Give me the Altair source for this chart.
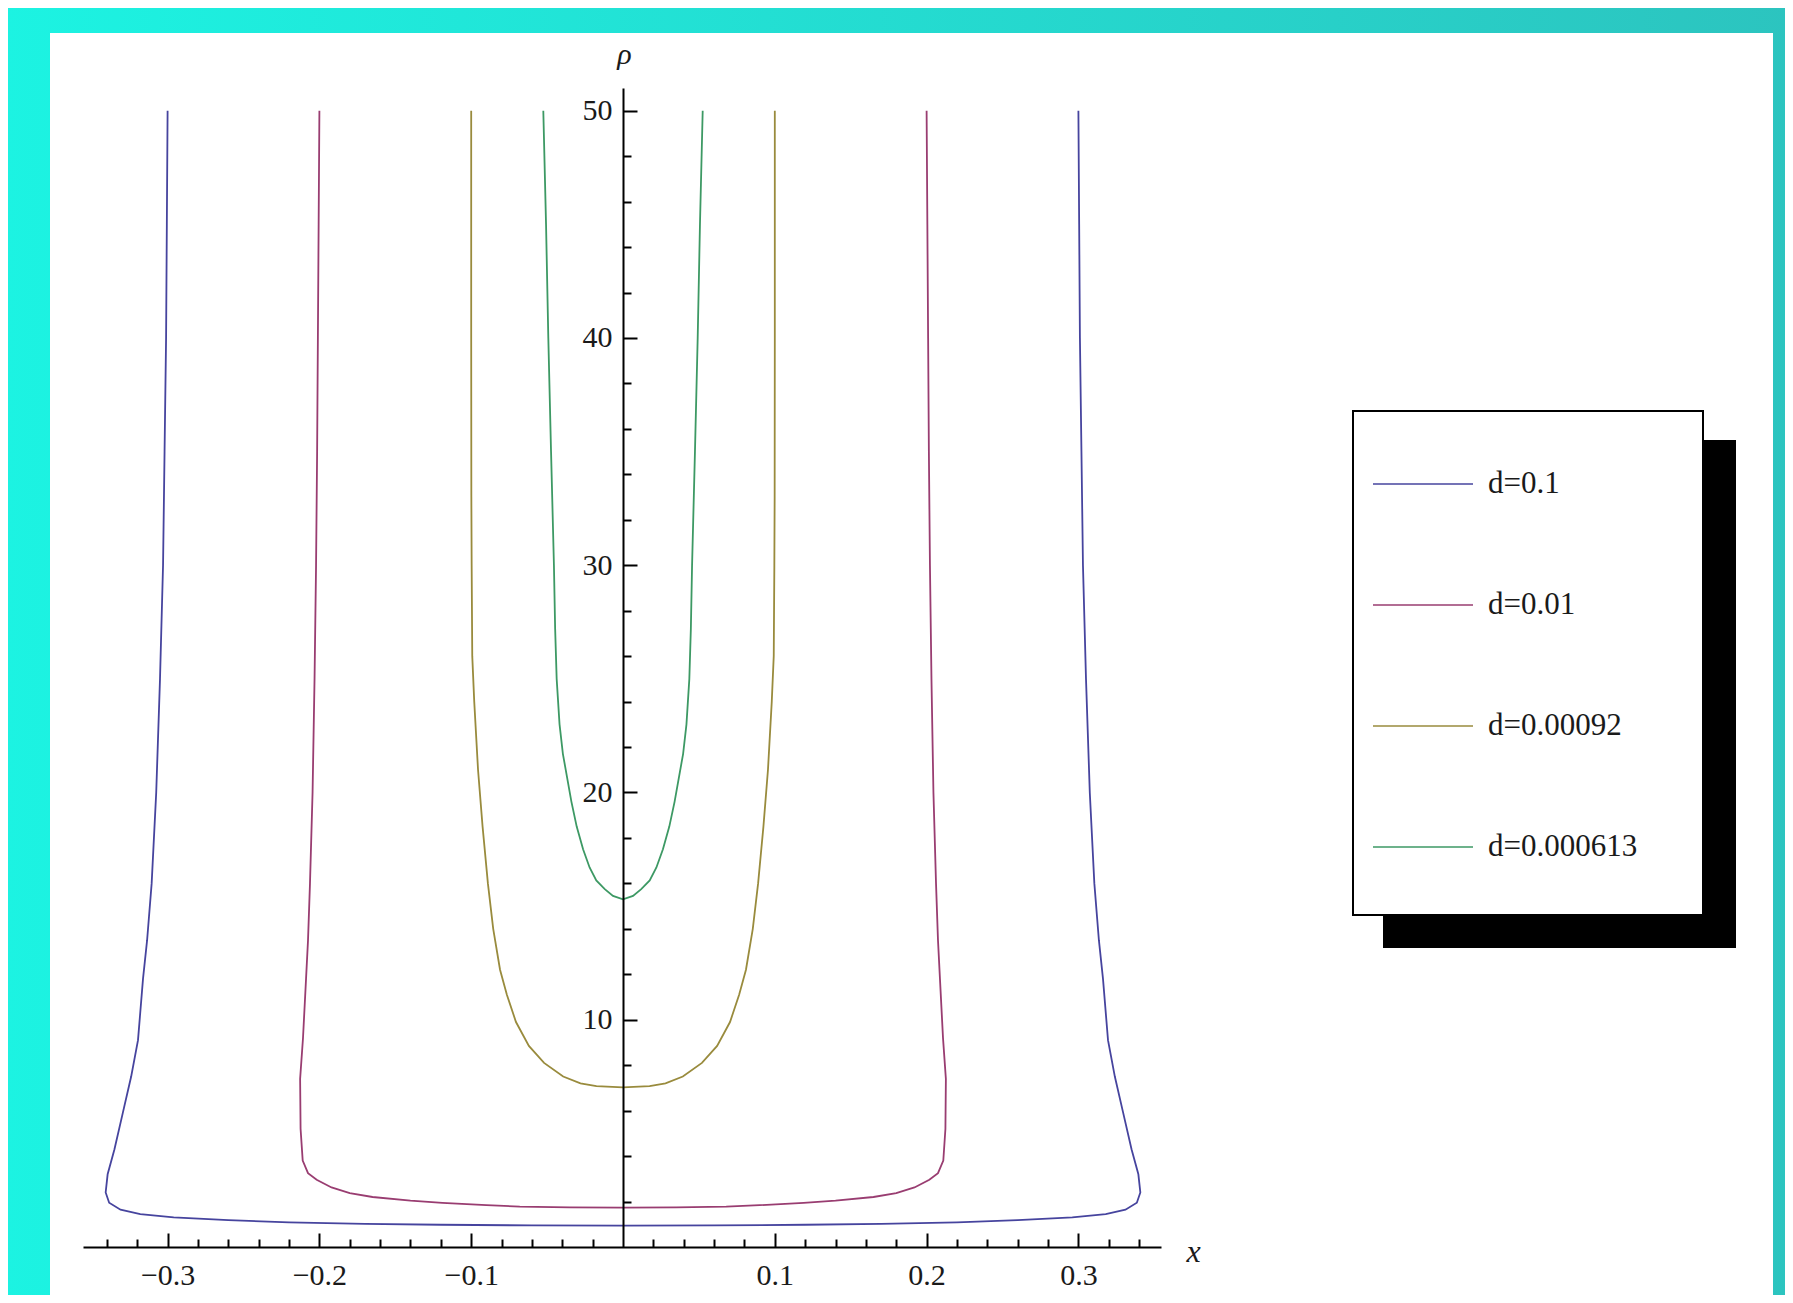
import altair as alt
import pandas as pd

# ---------------- data ----------------
series_names = ["d=0.1", "d=0.01", "d=0.00092", "d=0.000613"]
series_colors = ["#46449e", "#993d71", "#998b3d", "#3d9964"]

blue_x = [-0.3000, -0.3005, -0.3010, -0.3020, -0.3030, -0.3050, -0.3075, -0.3105, -0.3135, -0.3162,
          -0.3195, -0.3240, -0.3295, -0.3350, -0.3395, -0.3408, -0.3385, -0.3310, -0.3180, -0.2960,
          -0.2600, -0.2200, -0.1700, -0.1200, -0.0600, 0.0,
          0.0600, 0.1200, 0.1700, 0.2200, 0.2600, 0.2960, 0.3180, 0.3310, 0.3385, 0.3408,
          0.3395, 0.3350, 0.3295, 0.3240, 0.3195, 0.3162, 0.3135, 0.3105, 0.3075, 0.3050,
          0.3030, 0.3020, 0.3010, 0.3005, 0.3000]
blue_rho = [50, 45, 40, 35, 30, 25, 20, 16, 13.5, 11.8,
            9.1, 7.5, 5.9, 4.3, 3.2, 2.4, 1.95, 1.64, 1.45, 1.3,
            1.18, 1.08, 1.02, 0.98, 0.95, 0.94,
            0.95, 0.98, 1.02, 1.08, 1.18, 1.3, 1.45, 1.64, 1.95, 2.4,
            3.2, 4.3, 5.9, 7.5, 9.1, 11.8, 13.5, 16, 20, 25,
            30, 35, 40, 45, 50]

red_x = [-0.2000, -0.2005, -0.2010, -0.2015, -0.2022, -0.2032, -0.2045, -0.2062, -0.2075, -0.2088,
         -0.2108, -0.2127, -0.2124, -0.2110, -0.2075, -0.2018, -0.1920, -0.1800, -0.1650, -0.1400,
         -0.1190, -0.0900, -0.0680, -0.0350, 0.0,
         0.0350, 0.0680, 0.0900, 0.1190, 0.1400, 0.1650, 0.1800, 0.1920, 0.2018, 0.2075,
         0.2110, 0.2124, 0.2127, 0.2108, 0.2088, 0.2075, 0.2062, 0.2045, 0.2032, 0.2022,
         0.2015, 0.2010, 0.2005, 0.2000]
red_rho = [50, 45, 40, 35, 30, 25, 20, 16, 13.5, 11.8,
           9.2, 7.4, 5.2, 3.8, 3.25, 2.96, 2.62, 2.37, 2.2, 2.04,
           1.94, 1.84, 1.78, 1.74, 1.73,
           1.74, 1.78, 1.84, 1.94, 2.04, 2.2, 2.37, 2.62, 2.96, 3.25,
           3.8, 5.2, 7.4, 9.2, 11.8, 13.5, 16, 20, 25, 30,
           35, 40, 45, 50]

yellow_x = [-0.1000, -0.1000, -0.0999, -0.0997, -0.0993, -0.0980, -0.0955, -0.0925, -0.0890, -0.0855,
            -0.0810, -0.0765, -0.0705, -0.0620, -0.0520, -0.0394, -0.0280, -0.0175, 0.0,
            0.0175, 0.0280, 0.0394, 0.0520, 0.0620, 0.0705, 0.0765, 0.0810, 0.0855, 0.0890,
            0.0925, 0.0955, 0.0980, 0.0993, 0.0997, 0.0999, 0.1000, 0.1000]
yellow_rho = [50, 40, 33, 30, 26, 24, 21, 18.5, 16, 14,
              12.2, 11.1, 9.9, 8.85, 8.1, 7.5, 7.2, 7.08, 7.02,
              7.08, 7.2, 7.5, 8.1, 8.85, 9.9, 11.1, 12.2, 14, 16,
              18.5, 21, 24, 26, 30, 33, 40, 50]

green_x = [-0.0525, -0.0507, -0.0492, -0.0474, -0.0455, -0.0447, -0.0437, -0.0418, -0.0396, -0.0340,
           -0.0305, -0.0263, -0.0220, -0.0176, -0.0120, -0.0066, 0.0,
           0.0066, 0.0120, 0.0176, 0.0220, 0.0263, 0.0305, 0.0340, 0.0396, 0.0418, 0.0437,
           0.0447, 0.0455, 0.0474, 0.0492, 0.0507, 0.0525]
green_rho = [50, 45, 40, 35, 30, 27.2, 25.0, 23.0, 21.7, 19.6,
             18.5, 17.5, 16.7, 16.13, 15.75, 15.45, 15.3,
             15.45, 15.75, 16.13, 16.7, 17.5, 18.5, 19.6, 21.7, 23.0, 25.0,
             27.2, 30, 35, 40, 45, 50]

x_major = [-0.3, -0.2, -0.1, 0.1, 0.2, 0.3]
x_minor = [-0.34, -0.32, -0.28, -0.26, -0.24, -0.22, -0.18, -0.16, -0.14, -0.12,
           -0.08, -0.06, -0.04, -0.02, 0.02, 0.04, 0.06, 0.08,
           0.12, 0.14, 0.16, 0.18, 0.22, 0.24, 0.26, 0.28, 0.32, 0.34]
y_major = [10, 20, 30, 40, 50]
y_minor = [2, 4, 6, 8, 12, 14, 16, 18, 22, 24, 26, 28, 32, 34, 36, 38, 42, 44, 46, 48]

rows = []
for name, xs, rs in zip(series_names,
                        [blue_x, red_x, yellow_x, green_x],
                        [blue_rho, red_rho, yellow_rho, green_rho]):
    for i, (xv, rv) in enumerate(zip(xs, rs)):
        rows.append({"d": name, "x": xv, "rho": rv, "i": i})
df = pd.DataFrame(rows)
one = pd.DataFrame({"k": [0]})

# ---------------- layout ----------------
W, H = 1078, 1159
serif = "Liberation Serif"

x_scale = alt.Scale(domain=[-0.35573, 0.35441], nice=False, zero=False)
y_scale = alt.Scale(domain=[0, 51.0], nice=False, zero=False)

xA = alt.Axis(orient="bottom", values=x_major, format=".1f", ticks=False, tickSize=0,
              domain=False, grid=False, labelFont=serif, labelFontSize=30, labelColor="#1a1a1a",
              labelPadding=28, labelBaseline="middle", labelFlush=False, labelOverlap=False,
              title="x", titleFont=serif, titleFontStyle="italic", titleFontWeight="normal",
              titleFontSize=32, titleColor="#1a1a1a", titleX=1110, titleY=4, titleAlign="center",
              titleBaseline="middle", titleAngle=0, zindex=1)
yA = alt.Axis(orient="left", offset=-540, values=y_major, ticks=False, tickSize=0,
              domain=False, grid=False, labelFont=serif, labelFontSize=30, labelColor="#1a1a1a",
              labelPadding=11, labelBaseline="middle", labelAlign="right", labelOverlap=False,
              labelFlush=False,
              title="ρ", titleFont=serif, titleFontStyle="italic", titleFontWeight="normal",
              titleFontSize=30, titleColor="#1a1a1a", titleX=1, titleY=-34, titleAlign="center",
              titleBaseline="middle", titleAngle=0, zindex=1)
xB = alt.Axis(orient="top", offset=-H, values=x_major, ticks=True, tickSize=14, tickWidth=2,
              tickColor="black", labels=False, domain=True, domainColor="black", domainWidth=2,
              grid=False, title=None, zindex=1)
xC = alt.Axis(orient="top", offset=-H, values=x_minor, ticks=True, tickSize=8, tickWidth=2,
              tickColor="black", labels=False, domain=False, grid=False, title=None, zindex=1)
yB = alt.Axis(orient="right", offset=-(W - 540), values=y_major, ticks=True, tickSize=14,
              tickWidth=2, tickColor="black", labels=False, domain=True, domainColor="black",
              domainWidth=2, grid=False, title=None, zindex=1)
yC = alt.Axis(orient="right", offset=-(W - 540), values=y_minor, ticks=True, tickSize=8,
              tickWidth=2, tickColor="black", labels=False, domain=False, grid=False,
              title=None, zindex=1)

legend = alt.Legend(orient="none", legendX=1289, legendY=345, title=None, padding=0,
                    symbolType="stroke", symbolSize=10000, symbolStrokeWidth=1.6,
                    labelFont=serif, labelFontSize=31, labelColor="#1a1a1a", labelOffset=14,
                    labelLimit=400, rowPadding=55, zindex=1)

gradient = alt.LinearGradient(gradient="linear",
                              stops=[alt.GradientStop(offset=0, color="#1cf3e2"),
                                     alt.GradientStop(offset=1, color="#2cc4bf")],
                              x1=0, x2=1, y1=0, y2=0)

bg = alt.Chart(one).mark_rect(fill=gradient).encode(
    x=alt.value(-80), x2=alt.value(1710), y=alt.value(-90), y2=alt.value(1220))
panel = alt.Chart(one).mark_rect(fill="white").encode(
    x=alt.value(-33), x2=alt.value(1690), y=alt.value(-55), y2=alt.value(1220))

lines = alt.Chart(df).mark_line(strokeWidth=1.8).encode(
    x=alt.X("x:Q", scale=x_scale, axis=xA),
    y=alt.Y("rho:Q", scale=y_scale, axis=yA),
    color=alt.Color("d:N", scale=alt.Scale(domain=series_names, range=series_colors),
                    legend=legend),
    order=alt.Order("i:Q"),
)

shadow = alt.Chart(one).mark_rect(fill="black").encode(
    x=alt.value(1300), x2=alt.value(1653), y=alt.value(352), y2=alt.value(860))
box = alt.Chart(one).mark_rect(fill="white", stroke="black", strokeWidth=2).encode(
    x=alt.value(1270), x2=alt.value(1620), y=alt.value(323), y2=alt.value(827))

ticks_major = alt.Chart(df).mark_point(opacity=0).encode(
    x=alt.X("x:Q", scale=x_scale, axis=xB),
    y=alt.Y("rho:Q", scale=y_scale, axis=yB),
)
ticks_minor = alt.Chart(df).mark_point(opacity=0).encode(
    x=alt.X("x:Q", scale=x_scale, axis=xC),
    y=alt.Y("rho:Q", scale=y_scale, axis=yC),
)

chart = alt.layer(bg, panel, lines, shadow, box, ticks_major, ticks_minor).resolve_axis(
    x="independent", y="independent"
).properties(
    width=W, height=H,
    autosize=alt.AutoSizeParams(type="none"),
    padding={"left": 75, "top": 80, "right": 624, "bottom": 48},
    background="#22dcd2",
).configure_view(stroke=None, fill=None)

chart.save("out.html", embed_options={"renderer": "svg", "actions": False})
